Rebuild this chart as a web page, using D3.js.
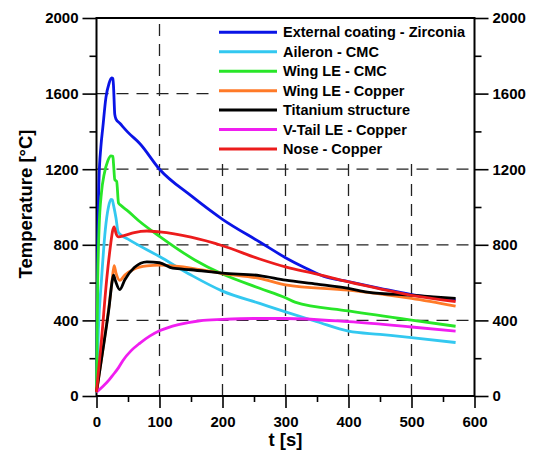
<!DOCTYPE html>
<html>
<head>
<meta charset="utf-8">
<script src="https://cdn.jsdelivr.net/npm/d3@7"></script>
<style>
  body { margin: 0; background: #fff; }
  text { font-family: "Liberation Sans", Arial, sans-serif; font-weight: bold; }
</style>
</head>
<body>
<div id="chart"></div>
<script>
// series names, in legend order
const seriesNames = ["External coating - Zirconia", "Aileron - CMC", "Wing LE - CMC",
    "Wing LE - Copper", "Titanium structure", "V-Tail LE - Copper", "Nose - Copper"];

// [t (s), temperature (°C)]
const coatingZirconia = [[0,20],[1,400],[2,800],[4,1150],[7,1320],[10,1420],[15,1580],[20,1655],[24,1683],[26,1680],[27,1640],[29,1490],[31,1465],[37,1443],[50,1395],[69,1335],[100,1200],[150,1060],[200,935],[259,815],[300,732],[330,680],[360,634],[400,605],[450,570],[500,537],[570,508]];
const aileronCMC = [[0,20],[3,350],[8,620],[14,880],[19,1000],[23,1040],[25,1038],[27,1010],[31,940],[34,872],[36,860],[50,830],[100,738],[150,640],[200,555],[259,490],[300,445],[350,393],[400,343],[450,326],[500,309],[570,283]];
const wingCMC = [[0,20],[1,350],[2,620],[4,880],[8,1080],[12,1170],[18,1245],[23,1270],[26,1268],[27,1230],[29,1145],[32,1135],[35,1020],[38,1010],[50,978],[69,922],[100,845],[156,720],[200,645],[259,570],[300,520],[315,497],[400,450],[500,401],[570,369]];
const wingCopper = [[0,20],[10,245],[20,480],[25,620],[28,690],[31,650],[37,612],[45,640],[60,672],[80,688],[100,692],[130,686],[200,648],[259,622],[300,588],[400,560],[500,516],[570,475]];
const titanium = [[0,20],[10,240],[20,470],[25,610],[27,640],[30,610],[37,563],[45,615],[60,680],[80,710],[100,705],[121,676],[150,668],[200,650],[259,637],[300,613],[350,592],[400,569],[430,550],[500,533],[570,516]];
const vtailCopper = [[0,20],[10,50],[20,85],[27,115],[35,150],[42,188],[55,240],[69,280],[85,318],[100,345],[130,378],[164,398],[200,405],[250,410],[300,410],[400,393],[500,365],[570,343]];
const noseCopper = [[0,20],[8,300],[16,610],[22,790],[26,880],[28,895],[31,860],[35,842],[45,850],[60,865],[80,873],[100,868],[150,840],[200,795],[259,725],[300,683],[350,645],[400,604],[450,567],[500,533],[570,500]];

const seriesData = [coatingZirconia, aileronCMC, wingCMC, wingCopper, titanium, vtailCopper, noseCopper];
const seriesColors = ["#0a14e6", "#33c8f0", "#28e628", "#ff7a28", "#000000", "#f01ef0", "#ec1c1c"];

const xMajor = [0, 100, 200, 300, 400, 500, 600];
const xMinor = [50, 150, 250, 350, 450, 550];
const yMajor = [0, 400, 800, 1200, 1600, 2000];
const yMinor = [200, 600, 1000, 1400, 1800];

const W = 536, H = 454;
const margin = { top: 18, right: 61.5, bottom: 58, left: 96.5 };
const width = W - margin.left - margin.right;
const height = H - margin.top - margin.bottom;

const svg = d3.select("#chart").append("svg")
    .attr("width", W)
    .attr("height", H);

const g = svg.append("g")
    .attr("transform", "translate(" + margin.left + "," + margin.top + ")");

const x = d3.scaleLinear().domain([0, 600]).range([0, width]);
const y = d3.scaleLinear().domain([0, 2000]).range([height, 0]);

// dashed grid
g.selectAll(".vgrid")
    .data(xMajor.slice(1, -1))
    .enter().append("line")
    .attr("x1", d => x(d)).attr("x2", d => x(d))
    .attr("y1", height).attr("y2", 0)
    .attr("stroke", "#222").attr("stroke-width", 1.3)
    .attr("stroke-dasharray", "12,8");

g.selectAll(".hgrid")
    .data(yMajor.slice(1, -1))
    .enter().append("line")
    .attr("x1", 0).attr("x2", width)
    .attr("y1", d => y(d)).attr("y2", d => y(d))
    .attr("stroke", "#222").attr("stroke-width", 1.3)
    .attr("stroke-dasharray", "12,8");

// legend background hides the grid
const legendX = 118.5, legendY = 2;
g.append("rect")
    .attr("x", legendX).attr("y", legendY)
    .attr("width", 256).attr("height", 142)
    .attr("fill", "#fff");

// axes
function styleAxis(sel) {
    sel.select(".domain").remove();
    sel.selectAll("line").attr("stroke", "#000").attr("stroke-width", 1.6);
    sel.selectAll("text").attr("font-size", "15px").attr("fill", "#000");
}

g.append("g")
    .attr("transform", "translate(0," + height + ")")
    .call(d3.axisBottom(x).tickValues(xMajor).tickSize(12).tickPadding(8).tickFormat(d3.format("d")))
    .call(styleAxis);
g.append("g")
    .attr("transform", "translate(0," + height + ")")
    .call(d3.axisBottom(x).tickValues(xMinor).tickSize(6).tickFormat(""))
    .call(styleAxis);

g.append("g")
    .call(d3.axisLeft(y).tickValues(yMajor).tickSize(14).tickPadding(4).tickFormat(d3.format("d")))
    .call(styleAxis);
g.append("g")
    .call(d3.axisLeft(y).tickValues(yMinor).tickSize(7).tickFormat(""))
    .call(styleAxis);

g.append("g")
    .attr("transform", "translate(" + width + ",0)")
    .call(d3.axisRight(y).tickValues(yMajor).tickSize(14).tickPadding(4).tickFormat(d3.format("d")))
    .call(styleAxis);
g.append("g")
    .attr("transform", "translate(" + width + ",0)")
    .call(d3.axisRight(y).tickValues(yMinor).tickSize(7).tickFormat(""))
    .call(styleAxis);

// frame
g.append("rect")
    .attr("width", width).attr("height", height)
    .attr("fill", "none").attr("stroke", "#000").attr("stroke-width", 2);

// curves
const line = d3.line()
    .x(d => x(d[0]))
    .y(d => y(d[1]))
    .curve(d3.curveMonotoneX);

g.selectAll(".series")
    .data(seriesData)
    .enter().append("path")
    .attr("class", "series")
    .attr("d", line)
    .attr("fill", "none")
    .attr("stroke", (d, i) => seriesColors[i])
    .attr("stroke-width", 2.8)
    .attr("stroke-linejoin", "round");

// legend
const legend = g.selectAll(".legend")
    .data(seriesNames)
    .enter().append("g")
    .attr("transform", (d, i) => "translate(" + (legendX + 4) + "," + (14.3 + i * 19.45) + ")");

legend.append("line")
    .attr("x1", 0).attr("x2", 58)
    .attr("stroke", (d, i) => seriesColors[i])
    .attr("stroke-width", 3);

legend.append("text")
    .attr("x", 64).attr("y", 5)
    .attr("font-size", "14.5px")
    .text(d => d);

// axis titles
svg.append("text")
    .attr("x", margin.left + width / 2)
    .attr("y", 446)
    .attr("text-anchor", "middle")
    .attr("font-size", "18.5px")
    .text("t [s]");

svg.append("text")
    .attr("transform", "translate(32," + (margin.top + height / 2 - 3) + ") rotate(-90)")
    .attr("text-anchor", "middle")
    .attr("font-size", "18.5px")
    .text("Temperature [°C]");
</script>
</body>
</html>
